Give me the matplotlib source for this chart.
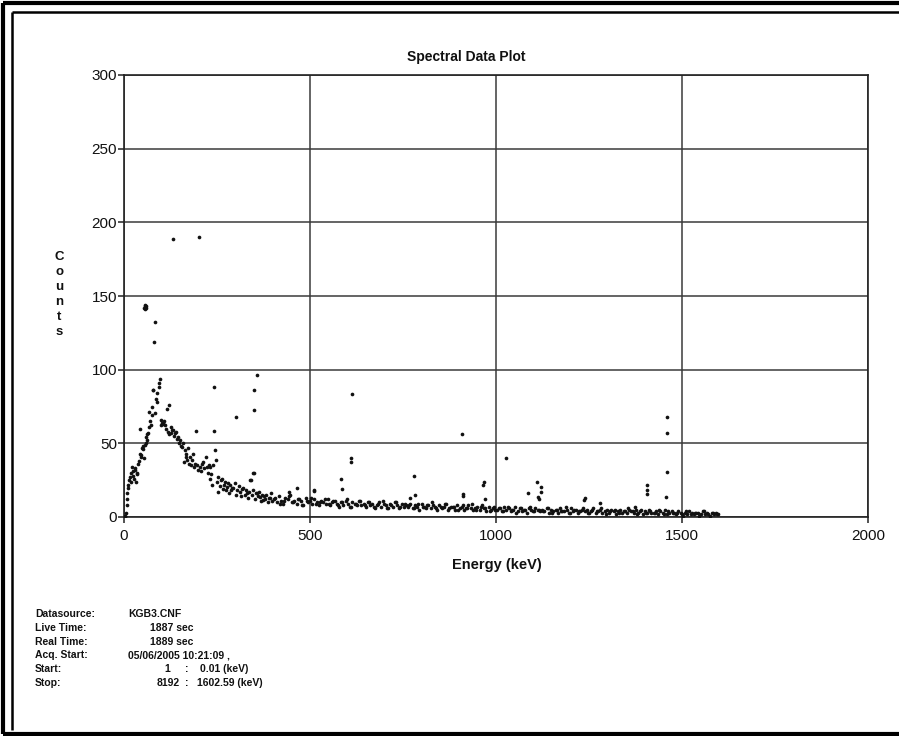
#!/usr/bin/env python3
# -*- coding: utf-8 -*-
"""
Spectral data plot (scanned gamma spectrum print-out), redrawn with matplotlib.
"""

import matplotlib
matplotlib.use('Agg')
import matplotlib.pyplot as plt
from matplotlib.lines import Line2D

plt.rcParams['font.family'] = ['Liberation Sans', 'DejaVu Sans']

W, H = 899, 736

# low energy part of the spectrum: (keV, counts)
low_energy = [2, 4, 5, 7, 8, 9, 11, 12, 14, 16, 18, 20, 21, 23, 25, 27, 29, 30, 32, 34,
              36, 38, 40, 42, 43, 45, 47, 48, 50, 52, 54, 56, 57, 58, 60, 61, 63, 65, 66, 68,
              70, 72, 74, 76, 77, 79, 81, 82, 84, 86, 88, 90, 93, 95, 97, 99, 100, 102, 104, 106,
              108, 110, 112, 115, 117, 120, 122, 125, 127, 130, 131, 133, 135, 138, 141, 143, 146, 148, 150, 152,
              155, 158, 161, 164, 166, 168, 170, 173, 175, 177, 180, 182, 186, 188, 190, 193, 195, 198, 201, 204,
              207, 210, 213, 216, 220, 222, 225, 228, 231, 231, 234, 237, 240, 243, 243, 245, 247, 249, 252, 254,
              257, 260, 263, 266, 269, 272, 274, 276, 279, 282, 285, 288, 291, 294, 298, 300, 302, 305, 308, 312,
              315, 318, 321, 324, 327, 330, 333, 336, 339, 342, 343, 346, 348, 349, 349, 349, 352, 355, 357, 357,
              360, 363, 366, 369, 372, 374, 377, 380, 383, 386, 389, 392, 395, 398]
low_counts = [0, 1, 3, 8, 12, 16, 20, 22, 25, 27, 30, 24, 34, 28, 31, 26, 33, 32, 24, 30,
              29, 36, 38, 43, 59.5, 41, 42, 47, 48, 46, 40, 49, 143, 50, 54, 52, 56, 57, 61, 71.5,
              65, 62.5, 69, 75, 86, 86, 119, 132.6, 70.4, 80, 78, 84, 91, 88, 93.5, 62.5, 66, 64, 64, 63,
              65, 62.5, 60, 73, 58, 76, 56, 61, 57, 59, 189, 59, 55, 57, 58, 53, 54.5, 50, 52, 48,
              47.7, 50, 37, 45.5, 41, 43, 39, 46.6, 36, 41, 35, 38.7, 43, 34, 36, 58.6, 35, 32, 190, 34,
              31, 36, 37.5, 33, 41, 33.7, 30, 35, 34, 26, 29, 22, 35, 58.6, 88, 45.5, 38.7, 24, 27, 17,
              21, 25, 26, 19, 22, 24, 18, 20.6, 23, 16, 21.7, 18, 20, 19.5, 23, 67.7, 15, 18.3, 21, 17,
              14, 19, 19.5, 15, 18, 16, 13, 17, 25, 25, 15, 18, 29.6, 86, 72.6, 30, 12, 16, 16, 96.4,
              14, 17, 13.8, 11, 15, 11.5, 14, 12, 15, 10, 13, 12.7, 16, 11]

# second row of channels at the low end, near the peak at ~56 keV
extra_energy = [55, 56, 57, 58, 59]
extra_counts = [142, 144, 141, 143, 142]

# continuum from 400 keV to the end of the spectrum
band_energy = [404, 410, 416, 422, 428, 434, 440, 446, 452, 458, 464, 470, 476, 482, 488, 494, 500, 506, 512, 518,
               524, 530, 536, 542, 548, 554, 560, 566, 572, 578, 584, 590, 596, 602, 608, 614, 620, 626, 632, 638,
               644, 650, 656, 662, 668, 674, 680, 686, 692, 698, 704, 710, 716, 722, 728, 734, 740, 746, 752, 758,
               764, 770, 776, 782, 788, 794, 800, 806, 812, 818, 824, 830, 836, 842, 848, 854, 860, 866, 872, 878,
               884, 890, 896, 902, 908, 914, 920, 926, 932, 938, 944, 950, 956, 962, 968, 974, 980, 986, 992, 998,
               1004, 1010, 1016, 1022, 1028, 1034, 1040, 1046, 1052, 1058, 1064, 1070, 1076, 1082, 1088, 1094,
               1100, 1106, 1112, 1118, 1124, 1130, 1136, 1142, 1148, 1154, 1160, 1166, 1172, 1178, 1184, 1190,
               1196, 1202, 1208, 1214, 1220, 1226, 1232, 1238, 1244, 1250, 1256, 1262, 1268, 1274, 1280, 1286,
               1292, 1298, 1304, 1310, 1316, 1322, 1328, 1334, 1340, 1346, 1352, 1358, 1364, 1370, 1376, 1382,
               1388, 1394, 1400, 1406, 1412, 1418, 1424, 1430, 1436, 1442, 1448, 1454, 1460, 1466, 1472, 1478,
               1484, 1490, 1496, 1502, 1508, 1514, 1520, 1526, 1532, 1538, 1544, 1550, 1556, 1562, 1568, 1574,
               1580, 1586, 1592, 1598]
band_counts = [12, 10, 14, 11, 9, 13, 12, 15, 10, 11,
               9, 12, 11, 8, 13, 10, 11, 9, 12, 10,
               8, 11, 10, 9, 12, 8, 10, 11, 9, 7,
               10, 8, 11, 9, 7, 10, 9, 8, 11, 8,
               9, 7, 10, 8, 9, 6, 8, 10, 7, 9,
               8, 6, 9, 7, 10, 8, 6, 9, 7, 8,
               7, 9, 6, 8, 7, 5, 9, 7, 6, 8,
               6, 8, 7, 5, 8, 6, 7, 9, 5, 7,
               7, 5, 8, 6, 7, 5, 6, 8, 6, 5,
               6, 7, 5, 8, 6, 4, 7, 5, 6, 5,
               5, 6, 4, 7, 5, 6, 4, 5, 7, 4,
               6, 4, 5, 3, 6, 5, 4, 6, 5, 4,
               5, 4, 6, 3, 5, 4, 5, 3, 6, 4,
               4, 5, 3, 6, 4, 5, 3, 4, 5, 4,
               5, 3, 4, 6, 3, 4, 5, 3, 4, 5,
               3, 5, 4, 2, 4, 5, 3, 4, 3, 5,
               4, 3, 5, 3, 4, 2, 4, 3, 5, 3,
               3, 4, 2, 4, 3, 5, 2, 3, 4, 3,
               2, 4, 3, 1, 3, 2, 4, 3, 2, 3,
               3, 2, 4, 2, 3, 1, 3, 2, 3, 2]

band2_energy = [407, 419, 431, 443, 455, 467, 479, 491, 503, 515, 527, 539, 551, 563, 575, 587, 599, 611, 623, 635,
                647, 659, 671, 683, 695, 707, 719, 731, 743, 755, 767, 779, 791, 803, 815, 827, 839, 851, 863, 875,
                887, 899, 911, 923, 935, 947, 959, 971, 983, 995, 1007, 1019, 1031, 1043, 1055, 1067, 1079, 1091,
                1103, 1115, 1127, 1139, 1151, 1163, 1175, 1187, 1199, 1211, 1223, 1235, 1247, 1259, 1271, 1283,
                1295, 1307, 1319, 1331, 1343, 1355, 1367, 1379, 1391, 1403, 1415, 1427, 1439, 1451, 1463, 1475,
                1487, 1499, 1511, 1523, 1535, 1547, 1559, 1571, 1583, 1595]
band2_counts = [13, 9, 11, 14, 10, 12, 8, 11, 13, 9,
                10, 12, 9, 11, 8, 10, 12, 7, 9, 11,
                8, 10, 7, 9, 11, 6, 8, 10, 7, 9,
                8, 6, 9, 7, 8, 10, 6, 7, 9, 6,
                7, 5, 8, 6, 9, 5, 7, 6, 4, 7,
                6, 4, 7, 5, 3, 6, 5, 7, 4, 5,
                4, 6, 3, 5, 4, 7, 3, 5, 4, 6,
                3, 5, 4, 6, 2, 4, 5, 3, 4, 6,
                4, 2, 5, 3, 4, 3, 5, 2, 4, 3,
                3, 2, 4, 2, 3, 1, 4, 2, 3, 2]

# isolated channels sticking out of the continuum (photo peaks)
peak_energy = [444, 464, 511, 512, 583, 585, 610, 611, 612, 769, 780, 782, 909, 911, 912, 966, 967, 970,
               1026, 1087, 1111, 1113, 1115, 1120, 1120, 1237, 1238, 1280, 1374, 1405, 1406, 1407,
               1456, 1459, 1461, 1461]
peak_counts = [17, 20, 18, 17.6, 25.8, 18.8, 40, 37, 83.5, 12.7, 27.8, 15, 56, 14, 15.5, 22, 24, 12,
               40, 16, 23.5, 13.6, 12, 20.6, 16.8, 11.5, 13, 9.7, 6.6, 15.6, 21.7, 18,
               13.8, 57, 68, 30.8]

x_ticks = [0, 500, 1000, 1500, 2000]
y_ticks = [0, 50, 100, 150, 200, 250, 300]

info_labels = ['Datasource:', 'Live Time:', 'Real Time:', 'Acq. Start:', 'Start:', 'Stop:']


def px(x, y):
    """pixel position (from top left) -> figure fraction"""
    return x / W, 1 - y / H


fig = plt.figure(figsize=(W / 100, H / 100), dpi=100)
fig.patch.set_facecolor('white')

# axes box: 0 keV at x=124, 2000 keV at x=868, 300 counts at y=75, 0 at y=517
ax = fig.add_axes([124 / W, (H - 517) / H, (868 - 124) / W, (517 - 75) / H])

dot = dict(s=7, color='#111111', marker='o', linewidths=0, zorder=3)
ax.scatter(low_energy, low_counts, **dot)
ax.scatter(extra_energy, extra_counts, **dot)
ax.scatter(band_energy, band_counts, **dot)
ax.scatter(band2_energy, band2_counts, **dot)
ax.scatter(peak_energy, peak_counts, **dot)

ax.set_xlim(0, 2000)
ax.set_ylim(0, 300)
ax.set_xticks(x_ticks)
ax.set_yticks(y_ticks)
ax.grid(True, color='#3a3a3a', linewidth=1.1)
ax.set_axisbelow(True)
for s in ax.spines.values():
    s.set_color('#222222')
    s.set_linewidth(1.2)
ax.tick_params(axis='both', direction='out', length=4, width=1.1, color='#222222',
               labelsize=11, labelcolor='#111111')
ax.tick_params(axis='y', pad=1)
ax.tick_params(axis='x', pad=5)

# title and axis captions
fig.text(*px(466, 57), 'Spectral Data Plot', ha='center', va='center',
         fontsize=10, fontweight='bold', color='#111111')
fig.text(*px(497, 565), 'Energy (keV)', ha='center', va='center',
         fontsize=10.5, fontweight='bold', color='#111111')
for i, ch in enumerate('Counts'):
    fig.text(*px(59, 257 + i * 15), ch, ha='center', va='center',
             fontsize=9.5, fontweight='bold', color='#111111')

# acquisition info block
info = dict(fontsize=7.5, fontweight='bold', color='#111111', va='center')
for i, lab in enumerate(info_labels):
    fig.text(*px(35, 614 + i * 13.8), lab, ha='left', **info)
fig.text(*px(128, 614), 'KGB3.CNF', ha='left', **info)
fig.text(*px(150, 627.8), '1887 sec', ha='left', **info)
fig.text(*px(150, 641.6), '1889 sec', ha='left', **info)
fig.text(*px(128, 655.4), '05/06/2005 10:21:09 ,', ha='left', **info)
fig.text(*px(164, 669.2), '1', ha='left', **info)
fig.text(*px(185, 669.2), ':', ha='left', **info)
fig.text(*px(200, 669.2), '0.01 (keV)', ha='left', **info)
fig.text(*px(157, 683), '8192', ha='left', **info)
fig.text(*px(185, 683), ':', ha='left', **info)
fig.text(*px(197, 683), '1602.59 (keV)', ha='left', **info)

# page frame of the scanned print-out (double line left/top, single at the bottom)
frame = [((3, 3), (3, 734), 3.0), ((12, 12), (12, 730), 1.8),
         ((3, W), (3, 3), 3.0), ((12, W), (12, 12), 1.8),
         ((3, W), (734, 734), 3.0)]
for xs, ys, lw in frame:
    fig.add_artist(Line2D([x / W for x in xs], [1 - y / H for y in ys],
                          color='black', linewidth=lw, solid_capstyle='butt'))

fig.savefig('out.png', dpi=100, facecolor='white')
